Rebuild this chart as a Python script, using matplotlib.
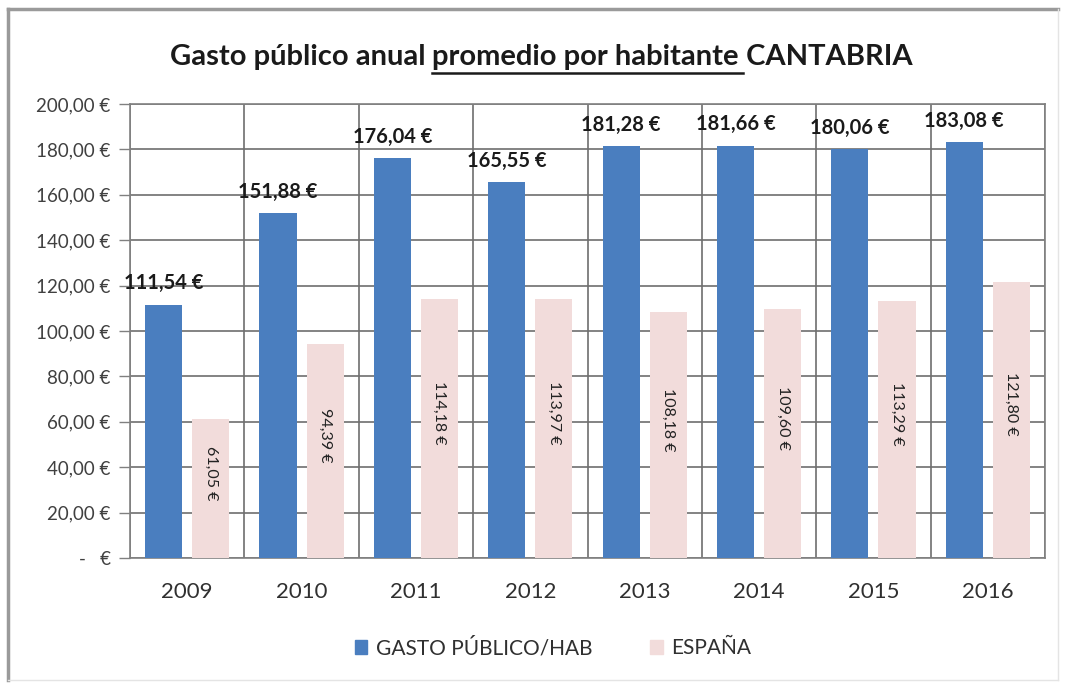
import matplotlib
matplotlib.use("Agg")
import matplotlib.pyplot as plt
import numpy as np
from matplotlib.lines import Line2D
from matplotlib.patches import Patch

years = ["2009", "2010", "2011", "2012", "2013", "2014", "2015", "2016"]
gasto = [111.54, 151.88, 176.04, 165.55, 181.28, 181.66, 180.06, 183.08]
espana = [61.05, 94.39, 114.18, 113.97, 108.18, 109.60, 113.29, 121.80]
yticks = [0, 20, 40, 60, 80, 100, 120, 140, 160, 180, 200]

def eur(v):
    return f"{v:,.2f} €".replace(",", "X").replace(".", ",").replace("X", ".")

def tick_lbl(v):
    return "-   €" if v == 0 else eur(v)

plt.rcParams['font.family'] = ['Lato', 'DejaVu Sans']

W, H = 1066, 685
fig = plt.figure(figsize=(W / 100, H / 100), dpi=100)
fig.patch.set_facecolor("white")

# outer frame
fig.add_artist(Line2D([8 / W, 8 / W], [1 - 9 / H, 1 - 680 / H], color="#9a9a9a", lw=2.5, transform=fig.transFigure))
fig.add_artist(Line2D([8 / W, 1058 / W], [1 - 9 / H, 1 - 9 / H], color="#9a9a9a", lw=2.5, transform=fig.transFigure))
fig.add_artist(Line2D([1058 / W, 1058 / W], [1 - 9 / H, 1 - 680 / H], color="#e4e4e4", lw=1, transform=fig.transFigure))
fig.add_artist(Line2D([8 / W, 1058 / W], [1 - 680 / H, 1 - 680 / H], color="#e4e4e4", lw=1, transform=fig.transFigure))

left, right, top, bottom = 130, 1045, 104, 558
ax = fig.add_axes([left / W, 1 - bottom / H, (right - left) / W, (bottom - top) / H])

x = np.arange(len(years))
bw = 0.325
off = 0.206
ax.bar(x - off, gasto, bw, color="#4a7ebf", zorder=3)
ax.bar(x + off, espana, bw, color="#f2dcdb", zorder=3)

ax.set_xlim(-0.5, len(years) - 0.5)
ax.set_ylim(0, 200)
ax.set_yticks(yticks)
ax.set_yticklabels([tick_lbl(v) for v in yticks], fontsize=13.5, color="#404040")
ax.set_xticks(x)
ax.set_xticklabels(years, fontsize=16, color="#303030")
ax.tick_params(axis="x", length=0, pad=17)
ax.tick_params(axis="y", length=8, width=1, color="#808080", pad=6)

for yv in yticks:
    ax.axhline(yv, color="#6e6e6e", lw=1.2, zorder=1)
for b in np.arange(-0.5, len(years), 1.0):
    ax.axvline(b, color="#6e6e6e", lw=1.2, zorder=1)
for s in ax.spines.values():
    s.set_color("#808080")
    s.set_linewidth(1.2)

for xi, v in zip(x, gasto):
    ax.text(xi - off, v + 5, eur(v), ha="center", va="bottom", fontsize=14.5,
            fontweight="bold", color="#1a1a1a", zorder=4)
for xi, v in zip(x, espana):
    ax.text(xi + off, v / 2 + 7, eur(v), ha="center", va="center", rotation=270,
            fontsize=11.5, color="#222222", zorder=4)

# title with underlined middle part
ty = 1 - 57 / H
parts = ["Gasto público anual ", "promedio por habitante", " CANTABRIA"]
tkw = dict(fontsize=21, fontweight="bold", color="#1a1a1a", va="center")
fig.canvas.draw()
r = fig.canvas.get_renderer()
tmp = [fig.text(0, 0, p, **tkw) for p in parts]
widths = [t.get_window_extent(r).width for t in tmp]
for t in tmp:
    t.remove()
total = sum(widths)
xs = 541 - total / 2
for p, w in zip(parts, widths):
    t = fig.text(xs / W, ty, p, ha="left", **tkw)
    if p == "promedio por habitante":
        uy = ty - 16 / H
        fig.add_artist(Line2D([xs / W, (xs + w + 4) / W], [uy, uy], color="#1a1a1a", lw=1.8,
                              transform=fig.transFigure))
    xs += w

handles = [Patch(color="#4a7ebf", label="GASTO PÚBLICO/HAB"),
           Patch(color="#f2dcdb", label="ESPAÑA")]
fig.legend(handles=handles, loc="center", bbox_to_anchor=(553 / W, 1 - 648 / H),
           ncol=2, frameon=False, fontsize=15, handlelength=0.6, handleheight=0.6,
           columnspacing=2.8, handletextpad=0.4, labelcolor="#303030")

fig.savefig("out.png", dpi=100, facecolor="white")
